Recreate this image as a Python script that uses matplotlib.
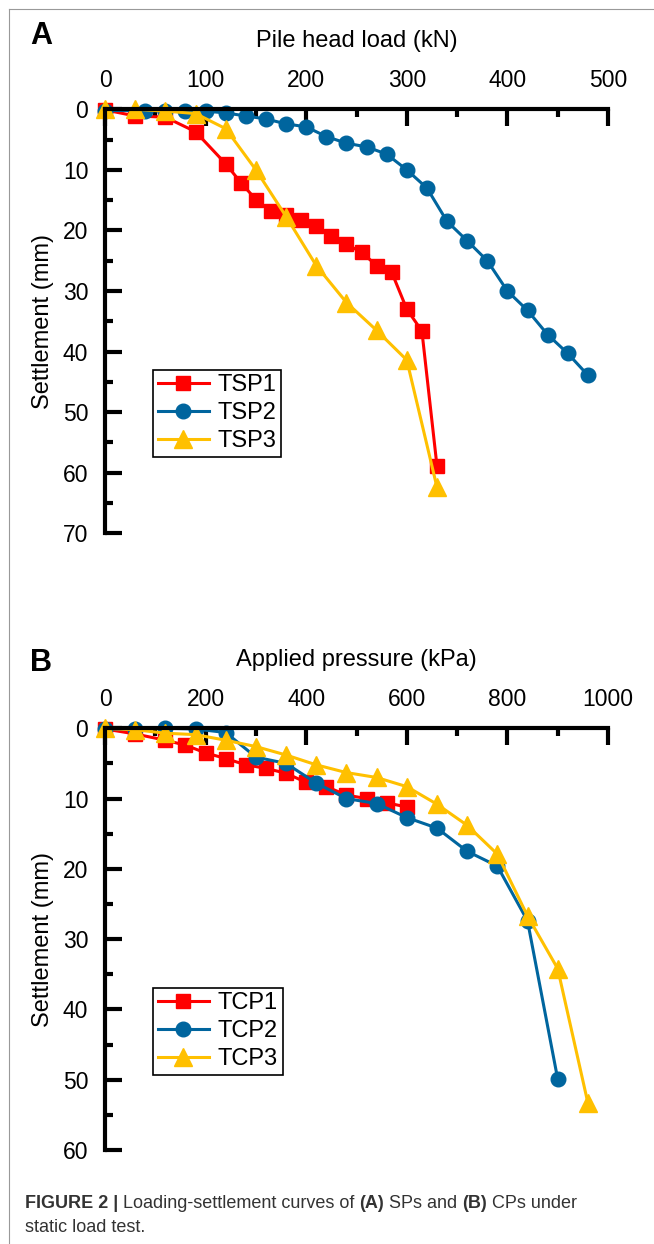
import matplotlib.pyplot as plt
from matplotlib.lines import Line2D
from matplotlib.ticker import MultipleLocator

plt.rcParams['font.family'] = ['Liberation Sans', 'DejaVu Sans']

# panel A: pile head load (kN) vs settlement (mm)
tsp1_load = [0, 30, 60, 90, 120, 135, 150, 165, 180, 195, 210, 225, 240, 255, 270, 285, 300, 315, 330]
tsp1_set = [0.1, 1.1, 1.3, 3.7, 9.0, 12.1, 14.9, 16.8, 17.4, 18.2, 19.2, 21.0, 22.3, 23.6, 25.8, 26.9, 33.0, 36.6, 58.9]
tsp2_load = [0, 40, 60, 80, 100, 120, 140, 160, 180, 200, 220, 240, 260, 280, 300, 320, 340, 360, 380,
             400, 420, 440, 460, 480]
tsp2_set = [0.2, 0.2, 0.3, 0.2, 0.3, 0.6, 1.1, 1.6, 2.4, 2.9, 4.5, 5.6, 6.2, 7.4, 10.0, 13.0, 18.5, 21.7,
            25.0, 30.0, 33.2, 37.2, 40.3, 43.9]
tsp3_load = [0, 30, 60, 90, 120, 150, 180, 210, 240, 270, 300, 330]
tsp3_set = [0, 0, 0.3, 0.7, 3.2, 10.0, 17.7, 25.8, 31.9, 36.5, 41.4, 62.4]

# panel B: applied pressure (kPa) vs settlement (mm)
tcp1_p = [0, 60, 120, 160, 200, 240, 280, 320, 360, 400, 440, 480, 520, 560, 600]
tcp1_set = [0.1, 0.8, 1.7, 2.4, 3.5, 4.3, 5.2, 5.7, 6.4, 7.7, 8.3, 9.5, 10.0, 10.6, 11.2]
tcp2_p = [0, 60, 120, 180, 240, 300, 360, 420, 480, 540, 600, 660, 720, 780, 840, 900]
tcp2_set = [0.1, 0.1, 0.0, 0.1, 0.6, 4.1, 5.0, 7.8, 10.0, 10.7, 12.7, 14.2, 17.5, 19.6, 27.4, 49.9]
tcp3_p = [0, 60, 120, 180, 240, 300, 360, 420, 480, 540, 600, 660, 720, 780, 840, 900, 960]
tcp3_set = [0, 0.2, 0.7, 0.9, 1.7, 2.6, 3.8, 5.2, 6.3, 7.0, 8.3, 10.8, 13.8, 17.9, 26.7, 34.2, 53.3]

RED = '#FF0000'
BLUE = '#00659E'
YELLOW = '#FFC000'

fig = plt.figure(figsize=(6.54, 12.44), dpi=100)

# thin grey frame (top and left edges visible)
fig.add_artist(Line2D([9/654, 1.0], [1 - 9/1244, 1 - 9/1244], color='#999999', lw=0.8))
fig.add_artist(Line2D([9/654, 9/654], [0, 1 - 9/1244], color='#999999', lw=0.8))

axA = fig.add_axes([105/654, 1 - 533.3/1244, 503/654, 424/1244])
axB = fig.add_axes([105/654, 1 - 1150/1244, 503/654, 421.7/1244])


def style(ax, xmax, xmajor, ymax, xlabel):
    ax.set_xlim(0, xmax)
    ax.set_ylim(ymax, 0)
    ax.xaxis.set_ticks_position('top')
    ax.xaxis.set_label_position('top')
    for s in ['right', 'bottom']:
        ax.spines[s].set_visible(False)
    for s in ['top', 'left']:
        ax.spines[s].set_linewidth(3)
    ax.xaxis.set_major_locator(MultipleLocator(xmajor))
    ax.xaxis.set_minor_locator(MultipleLocator(xmajor / 2))
    ax.yaxis.set_major_locator(MultipleLocator(10))
    ax.yaxis.set_minor_locator(MultipleLocator(5))
    ax.tick_params(which='major', direction='in', length=12.5, width=3, labelsize=16.5)
    ax.tick_params(which='minor', direction='in', length=6, width=3)
    ax.tick_params(axis='x', which='major', pad=12.5)
    ax.tick_params(axis='y', which='major', pad=12)
    ax.set_xlabel(xlabel, fontsize=17, labelpad=15.5)
    ax.set_ylabel('Settlement (mm)', fontsize=17, labelpad=6)


def curves(ax, data, labels, legend_y):
    markers = ['s', 'o', '^']
    sizes = [9.5, 10.5, 12.5]
    colors = [RED, BLUE, YELLOW]
    for (x, y), lab, m, ms, c in zip(data, labels, markers, sizes, colors):
        ax.plot(x, y, color=c, lw=2.2, marker=m, ms=ms, label=lab, clip_on=False)
    leg = ax.legend(loc='lower left', bbox_to_anchor=(0.095, legend_y), borderaxespad=0,
                    fontsize=17, fancybox=False, edgecolor='black', framealpha=1,
                    handlelength=2.2, handletextpad=0.35, borderpad=0.2, labelspacing=0.25)
    leg.get_frame().set_linewidth(1.2)


style(axA, 500, 100, 70, 'Pile head load (kN)')
curves(axA, [(tsp1_load, tsp1_set), (tsp2_load, tsp2_set), (tsp3_load, tsp3_set)],
       ['TSP1', 'TSP2', 'TSP3'], 0.18)

style(axB, 1000, 200, 60, 'Applied pressure (kPa)')
curves(axB, [(tcp1_p, tcp1_set), (tcp2_p, tcp2_set), (tcp3_p, tcp3_set)],
       ['TCP1', 'TCP2', 'TCP3'], 0.178)

fig.text(30/654, 1 - 36/1244, 'A', fontsize=22, fontweight='bold', va='center', ha='left')
fig.text(30/654, 1 - 663/1244, 'B', fontsize=22, fontweight='bold', va='center', ha='left')

# caption with bold parts, chained left to right
cap_col = '#333333'
parts = [('FIGURE 2 | ', 'bold'), ('Loading-settlement curves of ', 'normal'), ('(A)', 'bold'),
         (' SPs and ', 'normal'), ('(B)', 'bold'), (' CPs under', 'normal')]
prev = fig.text(25/654, 1 - 1203/1244, parts[0][0], fontsize=13, fontweight=parts[0][1],
                color=cap_col, va='center', ha='left')
for txt, w in parts[1:]:
    prev = axB.annotate(txt, xy=(1, 0), xycoords=prev, va='bottom', ha='left',
                        fontsize=13, fontweight=w, color=cap_col, annotation_clip=False)
fig.text(25/654, 1 - 1228/1244, 'static load test.', fontsize=13, color=cap_col,
         va='center', ha='left')

fig.savefig('out.png', dpi=100)
